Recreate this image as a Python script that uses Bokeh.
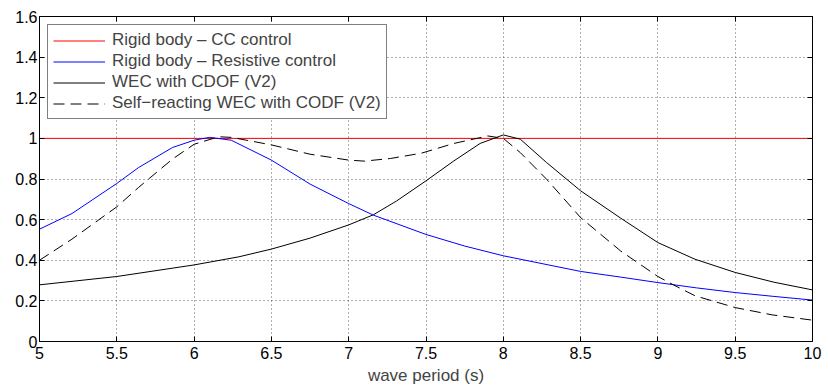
from bokeh.plotting import figure
from bokeh.models import LinearAxis, FixedTicker, Range1d, Legend, LegendItem
from bokeh.embed import file_html
from bokeh.resources import INLINE

# wave period (s) vs. values
x_cc = [5.0, 10.0]
y_cc = [1.0, 1.0]

x_res = [5.0, 5.21, 5.5, 5.64, 5.86, 6.0, 6.1, 6.24, 6.5, 6.75, 7.0, 7.16, 7.5, 7.75, 8.0, 8.5, 8.76, 9.0, 9.25, 9.5, 9.75, 10.0]
y_res = [0.553, 0.63, 0.778, 0.856, 0.955, 0.991, 1.005, 0.991, 0.893, 0.775, 0.679, 0.622, 0.527, 0.47, 0.422, 0.345, 0.317, 0.29, 0.264, 0.241, 0.222, 0.204]

x_cdof = [5.0, 5.5, 6.0, 6.29, 6.5, 6.75, 7.0, 7.16, 7.31, 7.5, 7.68, 7.85, 8.0, 8.11, 8.28, 8.5, 8.76, 9.0, 9.24, 9.5, 9.75, 10.0]
y_cdof = [0.279, 0.32, 0.377, 0.417, 0.455, 0.509, 0.574, 0.624, 0.692, 0.791, 0.889, 0.975, 1.017, 0.996, 0.881, 0.742, 0.607, 0.487, 0.405, 0.34, 0.292, 0.254]

x_self = [5.0, 5.21, 5.5, 5.64, 5.86, 6.0, 6.16, 6.24, 6.5, 6.75, 7.0, 7.1, 7.27, 7.47, 7.68, 7.9, 8.0, 8.11, 8.28, 8.5, 8.76, 9.0, 9.1, 9.24, 9.5, 9.74, 10.0]
y_self = [0.40, 0.504, 0.663, 0.758, 0.898, 0.971, 1.008, 1.005, 0.968, 0.922, 0.893, 0.888, 0.901, 0.927, 0.975, 1.012, 1.0, 0.93, 0.799, 0.61, 0.445, 0.32, 0.279, 0.225, 0.167, 0.131, 0.105]

x_ticks = [5, 5.5, 6, 6.5, 7, 7.5, 8, 8.5, 9, 9.5, 10]
x_labels = ["5", "5.5", "6", "6.5", "7", "7.5", "8", "8.5", "9", "9.5", "10"]
y_ticks = [0, 0.2, 0.4, 0.6, 0.8, 1.0, 1.2, 1.4, 1.6]
y_labels = ["0", "0.2", "0.4", "0.6", "0.8", "1", "1.2", "1.4", "1.6"]

FONT = "Liberation Sans"

p = figure(width=828, height=390, output_backend="svg", toolbar_location=None,
           x_range=Range1d(5, 10), y_range=Range1d(0, 1.6),
           min_border_left=39, min_border_right=16, min_border_top=16, min_border_bottom=49,
           x_axis_label="wave period (s)")
p.outline_line_color = "black"
p.outline_line_width = 1

def style_axis(ax, ticks, labels, show_labels=True):
    ax.ticker = FixedTicker(ticks=ticks)
    if show_labels:
        ax.major_label_overrides = {t: l for t, l in zip(ticks, labels)}
    else:
        ax.major_label_overrides = {t: "" for t in ticks}
    ax.major_tick_in = 5
    ax.major_tick_out = 0
    ax.minor_tick_in = 0
    ax.minor_tick_out = 0
    ax.axis_line_color = "black"
    ax.major_tick_line_color = "black"
    ax.major_label_text_font = FONT
    ax.major_label_text_font_size = "16px"
    ax.major_label_text_color = "black"
    ax.major_label_standoff = 2 if show_labels else 0

style_axis(p.xaxis[0], x_ticks, x_labels)
style_axis(p.yaxis[0], y_ticks, y_labels)
p.xaxis[0].major_label_standoff = 5
p.xaxis[0].axis_label_text_font = FONT
p.xaxis[0].axis_label_text_font_size = "17px"
p.xaxis[0].axis_label_text_font_style = "normal"
p.xaxis[0].axis_label_standoff = 4

top = LinearAxis()
style_axis(top, x_ticks, x_labels, show_labels=False)
p.add_layout(top, "above")
right = LinearAxis()
style_axis(right, y_ticks, y_labels, show_labels=False)
p.add_layout(right, "right")

p.xgrid[0].ticker = FixedTicker(ticks=x_ticks)
p.ygrid[0].ticker = FixedTicker(ticks=y_ticks)
for g in (p.xgrid[0], p.ygrid[0]):
    g.grid_line_color = "#606060"
    g.grid_line_dash = "1 3"
    g.grid_line_width = 1

r1 = p.line(x_cc, y_cc, line_color="#ff0000", line_width=1)
r2 = p.line(x_res, y_res, line_color="#0000ff", line_width=1)
r3 = p.line(x_cdof, y_cdof, line_color="black", line_width=1)
r4 = p.line(x_self, y_self, line_color="black", line_width=1, line_dash="11 6")

legend = Legend(items=[
    LegendItem(label="Rigid body \u2013 CC control", renderers=[r1]),
    LegendItem(label="Rigid body \u2013 Resistive control", renderers=[r2]),
    LegendItem(label="WEC with CDOF (V2)", renderers=[r3]),
    LegendItem(label="Self\u2212reacting WEC with CODF (V2)", renderers=[r4]),
], location="top_left")
legend.label_text_font = FONT
legend.label_text_font_size = "17px"
legend.label_height = 17
legend.glyph_height = 17
legend.glyph_width = 52
legend.label_standoff = 7
legend.spacing = 1
legend.padding = 5
legend.margin = 8
legend.border_line_color = "black"
legend.border_line_width = 1
legend.background_fill_alpha = 1
p.add_layout(legend, "center")

open("out.html", "w").write(file_html(p, INLINE))
